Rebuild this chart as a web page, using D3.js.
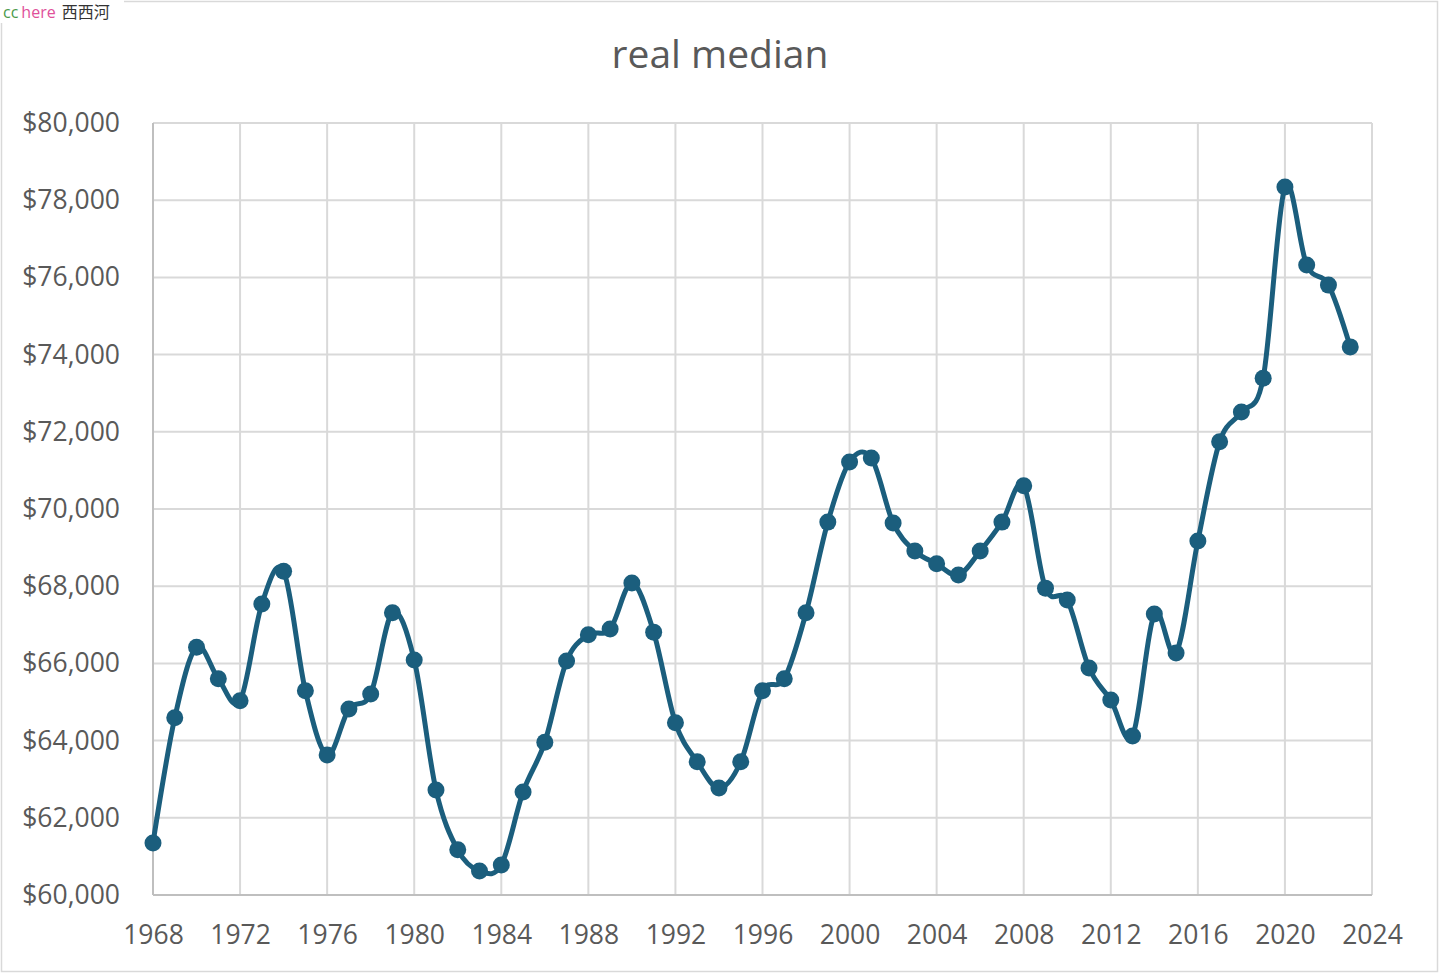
<!DOCTYPE html>
<html><head><meta charset="utf-8">
<script src="https://cdn.jsdelivr.net/npm/d3@7"></script>
<style>
html,body{margin:0;padding:0;background:#fff;}
svg{display:block;}
</style></head>
<body>
<svg id="chart" width="1440" height="974"></svg>
<script>
const years = [1968,1969,1970,1971,1972,1973,1974,1975,1976,1977,1978,1979,1980,1981,1982,1983,1984,1985,1986,1987,1988,1989,1990,1991,1992,1993,1994,1995,1996,1997,1998,1999,2000,2001,2002,2003,2004,2005,2006,2007,2008,2009,2010,2011,2012,2013,2014,2015,2016,2017,2018,2019,2020,2021,2022,2023];
const values = [61350,64590,66420,65600,65030,67540,68390,65290,63630,64820,65210,67310,66090,62720,61170,60620,60780,62670,63960,66060,66740,66890,68080,66810,64460,63450,62770,63450,65290,65600,67310,69660,71220,71320,69640,68910,68580,68290,68910,69660,70600,67950,67640,65880,65050,64120,67280,66270,69170,71740,72510,73390,78340,76320,75800,74200];
const xTicks = [1968,1972,1976,1980,1984,1988,1992,1996,2000,2004,2008,2012,2016,2020,2024];
const yTicks = [60000,62000,64000,66000,68000,70000,72000,74000,76000,78000,80000];
const title = "real median";

const svg = d3.select("#chart");
const font = "'Open Sans', 'Noto Sans', sans-serif";
const L=153, R=1372, T=123, B=895;
const x = d3.scaleLinear().domain([1968,2024]).range([L,R]);
const y = d3.scaleLinear().domain([60000,80000]).range([B,T]);

// outer border
svg.append("rect").attr("x",1.5).attr("y",1.5).attr("width",1436).attr("height",970)
  .attr("fill","#fff").attr("stroke","#d9d9d9").attr("stroke-width",1.5);
// watermark
svg.append("rect").attr("x",0).attr("y",0).attr("width",124).attr("height",23).attr("fill","#fff");
const wm = svg.append("text").attr("x",3).attr("y",18).attr("font-size",16).attr("font-family",font);
wm.append("tspan").attr("fill","#4a9a4a").text("cc");
wm.append("tspan").attr("fill","#e0509a").attr("dx",3).text("here");
wm.append("tspan").attr("fill","#333").attr("dx",6).attr("font-family","'Noto Sans CJK SC'").attr("font-size",16).text("西西河");

// title
svg.append("text").attr("x",720).attr("y",68).attr("text-anchor","middle")
  .attr("font-family",font).attr("font-size",39).attr("fill","#595959").text(title);

// grid
svg.append("g").selectAll("line").data(yTicks).join("line")
  .attr("x1",L).attr("x2",R).attr("y1",d=>y(d)).attr("y2",d=>y(d))
  .attr("stroke","#d9d9d9").attr("stroke-width",2);
svg.append("g").selectAll("line").data(xTicks).join("line")
  .attr("x1",d=>x(d)).attr("x2",d=>x(d)).attr("y1",T).attr("y2",B)
  .attr("stroke","#d9d9d9").attr("stroke-width",2);
// axis lines
svg.append("line").attr("x1",L).attr("x2",R).attr("y1",B).attr("y2",B).attr("stroke","#bfbfbf").attr("stroke-width",2);
svg.append("line").attr("x1",L).attr("x2",L).attr("y1",T).attr("y2",B).attr("stroke","#bfbfbf").attr("stroke-width",2);

// axes labels
const fmt = d => "$" + d3.format(",")(d);
const yAxis = d3.axisLeft(y).tickValues(yTicks).tickFormat(fmt).tickSize(0).tickPadding(33);
const gy = svg.append("g").attr("transform",`translate(${L},0)`).call(yAxis);
gy.select(".domain").remove();
gy.selectAll("text").attr("font-family",font).attr("font-size",26.5).attr("fill","#595959");

const xAxis = d3.axisBottom(x).tickValues(xTicks).tickFormat(d3.format("d")).tickSize(0).tickPadding(30);
const gx = svg.append("g").attr("transform",`translate(0,${B})`).call(xAxis);
gx.select(".domain").remove();
gx.selectAll("text").attr("font-family",font).attr("font-size",26.5).attr("fill","#595959");

// line
const data = years.map((yr,i)=>({yr, v:values[i]}));
const line = d3.line().x(d=>x(d.yr)).y(d=>y(d.v)).curve(d3.curveCardinal.tension(0));
svg.append("path").datum(data).attr("d",line).attr("fill","none")
  .attr("stroke","#1b5e7d").attr("stroke-width",5).attr("stroke-linejoin","round");
svg.append("g").selectAll("circle").data(data).join("circle")
  .attr("cx",d=>x(d.yr)).attr("cy",d=>y(d.v)).attr("r",8.5).attr("fill","#1b5e7d");
</script>
</body></html>
